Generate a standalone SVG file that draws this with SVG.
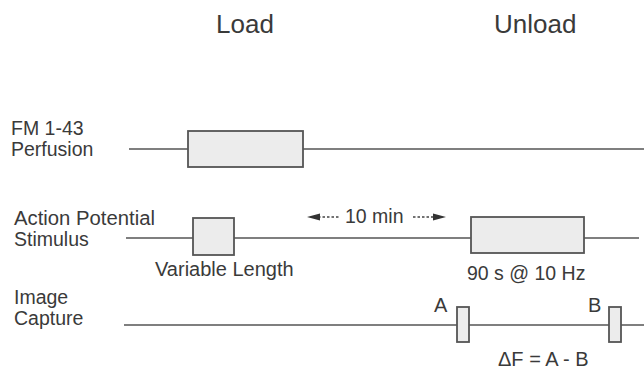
<svg xmlns="http://www.w3.org/2000/svg" width="644" height="371" viewBox="0 0 644 371">
<style>
text{font-family:"Liberation Sans",Arial,sans-serif;fill:#3a3a3a;font-size:20px}
.lbl{font-size:19.5px}
.title{font-size:26px}
.line{stroke:#555;stroke-width:1.6;fill:none}
.box{fill:#ececec;stroke:#555;stroke-width:1.8}
.dash{stroke:#444;stroke-width:1.5;stroke-dasharray:2.5 2;fill:none}
.head{fill:#333}
</style>
<rect width="644" height="371" fill="#fff"/>
<g id="titles">
<text class="title" x="216" y="33">Load</text>
<text class="title" x="494" y="33">Unload</text>
</g>
<g id="connectors">
<line class="line" x1="129" y1="149" x2="644" y2="149"/>
<line class="line" x1="126" y1="238" x2="639" y2="238"/>
<line class="line" x1="124" y1="325" x2="644" y2="325"/>
<line class="dash" x1="318" y1="217" x2="340" y2="217"/>
<polygon class="head" points="307,217 320,213.5 320,220.5"/>
<line class="dash" x1="413" y1="217" x2="434" y2="217"/>
<polygon class="head" points="446,217 433,213.5 433,220.5"/>
<text x="345" y="223" style="font-size:19.5px">10 min</text>
</g>
<g id="fm-perfusion">
<text class="lbl" x="11" y="135">FM 1-43</text>
<text class="lbl" x="11" y="156">Perfusion</text>
<rect class="box" x="188" y="131" width="115" height="36"/>
</g>
<g id="action-potential">
<text class="lbl" x="14" y="225" textLength="141" lengthAdjust="spacingAndGlyphs">Action Potential</text>
<text class="lbl" x="14" y="246">Stimulus</text>
<rect class="box" x="193" y="218" width="41" height="37"/>
<text x="155" y="276">Variable Length</text>
<rect class="box" x="471" y="217" width="113" height="36"/>
<text x="467" y="280" style="font-size:19.5px">90 s @ 10 Hz</text>
</g>
<g id="image-capture">
<text class="lbl" x="14" y="304">Image</text>
<text class="lbl" x="14" y="325">Capture</text>
<text x="434" y="312">A</text>
<rect class="box" x="457" y="307" width="12" height="35"/>
<text x="588" y="312">B</text>
<rect class="box" x="609" y="307" width="12" height="35"/>
<text x="498" y="366">ΔF = A - B</text>
</g>
</svg>
